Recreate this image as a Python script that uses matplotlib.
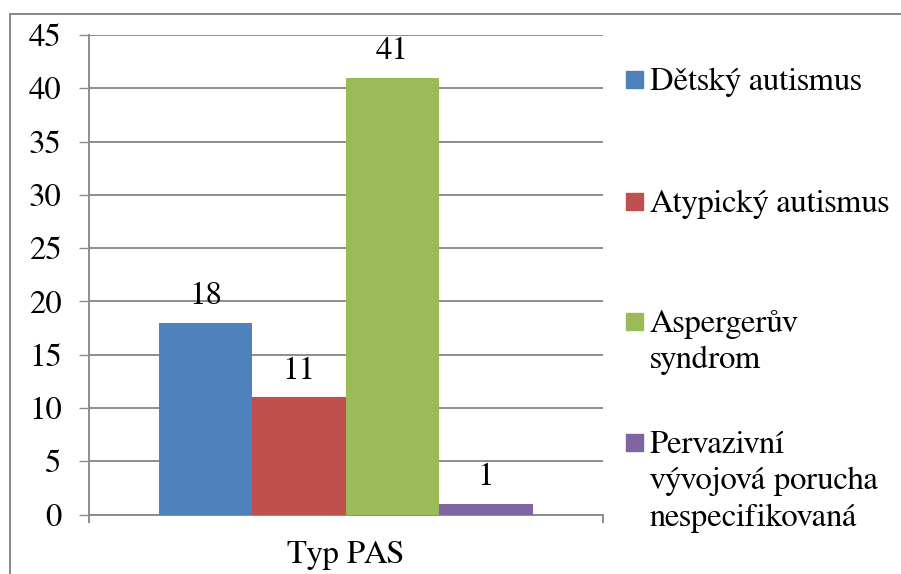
import matplotlib
matplotlib.use("Agg")
import matplotlib.pyplot as plt
from matplotlib.patches import Rectangle

# Data
category = "Typ PAS"
series_names = ["Dětský autismus", "Atypický autismus", "Aspergerův\nsyndrom",
                "Pervazivní\nvývojová porucha\nnespecifikovaná"]
values = [18, 11, 41, 1]
colors = ["#4F81BD", "#C0504D", "#9BBB59", "#8064A2"]
y_ticks = [0, 5, 10, 15, 20, 25, 30, 35, 40, 45]

W, H = 901, 574
DPI = 100
FS = 23.6
GRID = "#8C8C8C"

plt.rcParams["font.family"] = ["FreeSerif", "Liberation Serif", "DejaVu Serif"]

fig = plt.figure(figsize=(W / DPI, H / DPI), dpi=DPI)

def fx(px):
    return px / W

def fy(py):
    return 1 - py / H

# outer chart border
fig.patches.append(Rectangle((fx(9.5), -0.1), 1.2, fy(13.5) + 0.1,
                             transform=fig.transFigure, fill=False,
                             edgecolor="#868686", linewidth=1.4))

left, right, top, bottom = 89, 602.5, 35, 514.5
ax = fig.add_axes([fx(left), fy(bottom), fx(right - left), (bottom - top) / H])

n = len(values)
bw = 93.5 / (right - left)
offsets = [(i - (n - 1) / 2) * bw for i in range(n)]
for off, v, c in zip(offsets, values, colors):
    ax.bar(off, v, width=bw, color=c, zorder=3)
    ax.annotate(str(v), (off, v), xytext=(0, 13.5), textcoords="offset points",
                ha="center", va="baseline", fontsize=FS, zorder=4)

ax.set_xlim(-0.5, 0.5)
ax.set_ylim(0, 45)
ax.set_yticks(y_ticks)
ax.set_yticklabels([str(t) for t in y_ticks], fontsize=FS)
ax.set_xticks([-0.5, 0.5])
ax.set_xticklabels(["", ""])
ax.yaxis.grid(True, color=GRID, linewidth=1.4, zorder=1)
ax.tick_params(axis="y", length=7.2, width=1.0, color=GRID, pad=12.5)
ax.tick_params(axis="x", length=6, width=1.4, color=GRID)
for s in ["top", "right"]:
    ax.spines[s].set_visible(False)
for s in ["left", "bottom"]:
    ax.spines[s].set_color(GRID)
    ax.spines[s].set_linewidth(1.4)

fig.text(fx(345), fy(563), category, ha="center", va="baseline", fontsize=FS)

# legend drawn at the right of the plot
first_baselines = [90, 211.7, 331.7, 453]
line_step = 36.3
for name, c, yb in zip(series_names, colors, first_baselines):
    fig.patches.append(Rectangle((fx(626), fy(yb - 2)), fx(17), 17 / H,
                                 transform=fig.transFigure, color=c))
    for k, line in enumerate(name.split("\n")):
        fig.text(fx(650), fy(yb + k * line_step), line, ha="left",
                 va="baseline", fontsize=FS)

fig.savefig("out.png", dpi=DPI)
